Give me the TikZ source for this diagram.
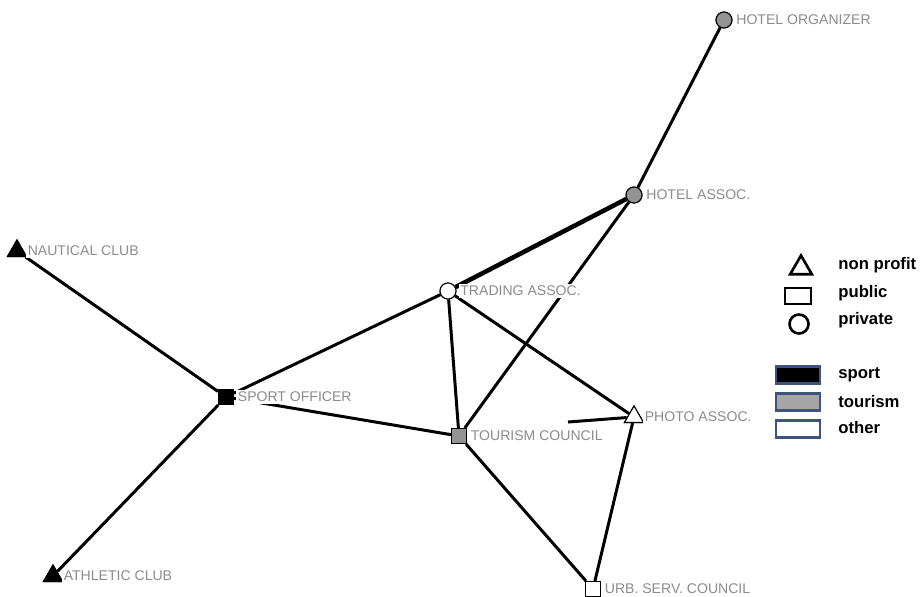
\documentclass[tikz,border=0pt]{standalone}
\usepackage{fontspec}
\setmainfont{Liberation Sans}
\usetikzlibrary{positioning,shapes.geometric}
\definecolor{keyframe}{RGB}{62,84,122}

\begin{document}
\begin{tikzpicture}[x=0.02cm, y=-0.02cm,
        actor/.style={draw, line width=0.6pt, inner sep=0pt},
        nonprofit/.style={actor, regular polygon, regular polygon sides=3, minimum size=0.44cm},
        public/.style={actor, rectangle, minimum size=0.3cm},
        private/.style={actor, circle, minimum size=0.32cm},
        sportcol/.style={fill=black},
        tourcol/.style={fill=gray!85},
        othercol/.style={fill=white},
        actorname/.style={right=1pt of #1, anchor=west, fill=white, inner sep=1pt,
                     text=black!45, font=\fontsize{8}{9}\selectfont},
        tie/.style={line width=1.7pt},
        strongtie/.style={line width=2.6pt},
        keybox/.style={draw=keyframe, line width=1.2pt, minimum width=0.88cm,
                     minimum height=0.34cm, inner sep=0pt},
        key/.style={font=\fontsize{9.5}{11}\selectfont\bfseries, anchor=west, inner sep=0pt}]

        \useasboundingbox (0,0) rectangle (922,596);

        %%% Actors
        % Hotel side
        \node[private, tourcol] (hotelorg) at (724,20) {};
        \node[private, tourcol] (hotelassoc) at (634,195) {};

        % Sport side
        \node[nonprofit, sportcol] (nautical) at (17,251) {};
        \node[public, sportcol] (sportoff) at (226,397) {};
        \node[nonprofit, sportcol] (athletic) at (53,576) {};

        % Middle
        \node[private, othercol] (trading) at (448,291) {};
        \node[public, tourcol] (tourism) at (459,436) {};
        \node[nonprofit, othercol] (photo) at (634,417) {};
        \node[public, othercol] (urb) at (593,589) {};

        % Loose end of the tie leaving the photo association
        \coordinate (stub) at (568,422);

        %%% Ties
        \draw[tie] (hotelorg) -- (hotelassoc);
        \draw[strongtie] (hotelassoc) -- (trading);
        \draw[tie] (hotelassoc) -- (tourism);
        \draw[tie] (nautical) -- (sportoff);
        \draw[tie] (athletic) -- (sportoff);
        \draw[tie] (sportoff) -- (trading);
        \draw[tie] (sportoff) -- (tourism);
        \draw[tie] (trading) -- (tourism);
        \draw[tie] (trading) -- (photo);
        \draw[tie] (photo) -- (stub);
        \draw[tie] (tourism) -- (urb);
        \draw[tie] (photo) -- (urb);

        % Redraw actors on top of the ties
        \node[private, tourcol] at (hotelorg) {};
        \node[private, tourcol] at (hotelassoc) {};
        \node[nonprofit, sportcol] at (nautical) {};
        \node[public, sportcol] at (sportoff) {};
        \node[nonprofit, sportcol] at (athletic) {};
        \node[private, othercol] at (trading) {};
        \node[public, tourcol] at (tourism) {};
        \node[nonprofit, othercol] at (photo) {};
        \node[public, othercol] at (urb) {};

        %%% Names
        \node[actorname=hotelorg] {HOTEL ORGANIZER};
        \node[actorname=hotelassoc] {HOTEL ASSOC.};
        \node[actorname=nautical] {NAUTICAL CLUB};
        \node[actorname=sportoff] {SPORT OFFICER};
        \node[actorname=athletic] {ATHLETIC CLUB};
        \node[actorname=trading] {TRADING ASSOC.};
        \node[actorname=tourism] {TOURISM COUNCIL};
        \node[actorname=photo] {PHOTO ASSOC.};
        \node[actorname=urb] {URB. SERV. COUNCIL};

        %%% Legend
        \node[draw, line width=1.5pt, regular polygon, regular polygon sides=3,
              minimum size=0.5cm, inner sep=0pt] (kprofit) at (801,268) {};
        \node[draw, line width=1.5pt, minimum width=0.52cm, minimum height=0.32cm,
              inner sep=0pt] (kpublic) at (798,296) {};
        \node[draw, line width=1.5pt, circle, minimum size=0.38cm,
              inner sep=0pt] (kprivate) at (799,324) {};
        \node[key] at (838,265) {non profit};
        \node[key] at (838,293) {public};
        \node[key] at (838,320) {private};

        \node[keybox, fill=black] (ksport) at (798,375) {};
        \node[keybox, fill=gray!70] (ktour) at (798,402) {};
        \node[keybox, fill=white] (kother) at (798,429) {};
        \node[key] at (838,375) {sport};
        \node[key] at (838,402) {tourism};
        \node[key] at (838,428) {other};
\end{tikzpicture}
\end{document}
